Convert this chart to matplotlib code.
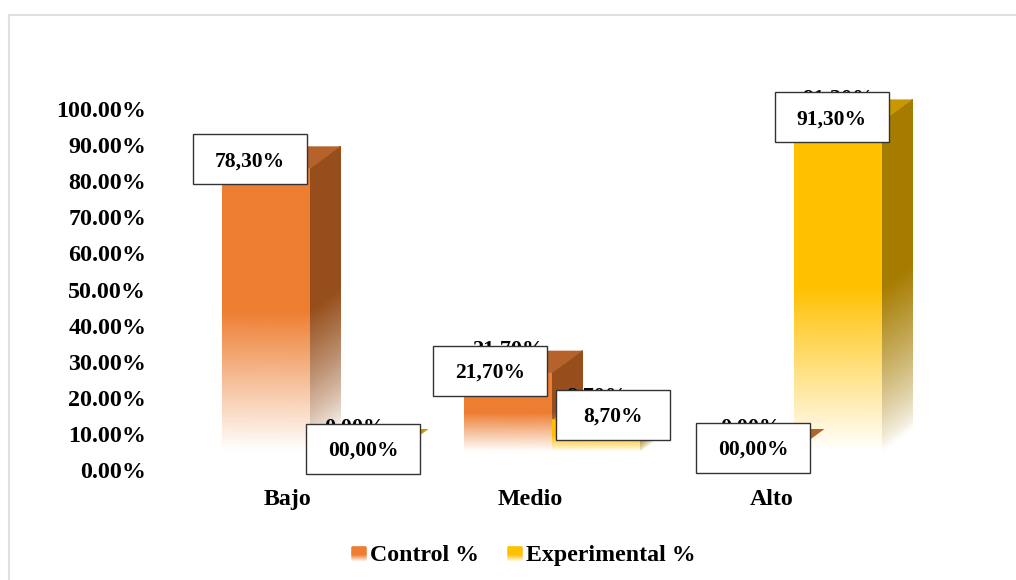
import matplotlib
matplotlib.use('Agg')
import matplotlib.pyplot as plt
import numpy as np
from matplotlib.colors import LinearSegmentedColormap
from matplotlib.lines import Line2D
from matplotlib.patches import Polygon, Rectangle
from matplotlib.transforms import IdentityTransform

categories = ['Bajo', 'Medio', 'Alto']
control = [78.3, 21.7, 0.0]
experimental = [0.0, 8.7, 91.3]
control_labels = ['78,30%', '21,70%', '00,00%']
experimental_labels = ['00,00%', '8,70%', '91,30%']
y_ticks = [0, 10, 20, 30, 40, 50, 60, 70, 80, 90, 100]
series_names = ['Control %', 'Experimental %']

W, H = 1016, 580
SERIF = 'Liberation Serif'

# colours for front, side, top of each series
ORANGE = ('#ed7d31', '#964f1c', '#b5622b')
YELLOW = ('#ffc000', '#a67c00', '#c99700')

# 3d look, all in pixels
BAR_W = 88
DEPTH_X, DEPTH_Y = 30, 22
FLOOR_X, FLOOR_Y = 22.5, 19
BOX_W, BOX_H = 114, 50

fig = plt.figure(figsize=(W / 100, H / 100), dpi=100)
ax = fig.add_axes([167 / W, (H - 470) / H, 726 / W, 361 / H])
ax.set_xlim(-0.5, 2.5)
ax.set_ylim(0, 100)
ax.autoscale(False)
for s in ax.spines.values():
    s.set_visible(False)
ax.patch.set_visible(False)
ax.tick_params(axis='y', length=0, pad=15)
ax.tick_params(axis='x', length=0, pad=14)
ax.set_xticks(range(len(categories)))
ax.set_xticklabels(categories, family=SERIF, weight='bold', fontsize=17.2)
ax.set_yticks(y_ticks)
ax.set_yticklabels([f'{t:.2f}%' for t in y_ticks], family=SERIF, weight='bold', fontsize=17.3)

ident = IdentityTransform()


def px(i, value):
    return ax.transData.transform((i, value))


def fade_face(x0, x1, y0_left, y0_right, height, color, zorder, gamma=1.0):
    # white at the floor, full colour from half way up
    cmap = LinearSegmentedColormap.from_list('fade', ['#ffffff', color])
    fracs = np.linspace(0, 1, 41)
    X = np.tile([x0, x1], (len(fracs), 1))
    Y = np.column_stack([y0_left + fracs * height, y0_right + fracs * height])
    shade = np.clip(fracs / 0.5, 0, 1) ** gamma
    C = np.column_stack([shade, shade])
    ax.pcolormesh(X, Y, C, cmap=cmap, vmin=0, vmax=1, shading='gouraud',
                  transform=ident, clip_on=False, zorder=zorder, antialiased=False)


def draw_bar(left, base, height, colors):
    front, side, top = colors
    right = left + BAR_W
    if height > 0:
        fade_face(left, right, base, base, height, front, 2)
        fade_face(right, right + DEPTH_X, base, base + DEPTH_Y, height, side, 2, gamma=0.75)
    y = base + height
    ax.add_patch(Polygon(
        [(left, y), (right, y), (right + DEPTH_X, y + DEPTH_Y), (left + DEPTH_X, y + DEPTH_Y)],
        closed=True, facecolor=top, edgecolor='none',
        transform=ident, clip_on=False, zorder=3,
    ))


def draw_label(cx, y, ghost, text, dx, dy):
    # the chart has the original label sitting behind the pasted box
    ax.text(cx, y + 23, ghost, family=SERIF, weight='bold', fontsize=16, ha='center',
            va='center', transform=ident, zorder=4, clip_on=False)
    ax.add_patch(Rectangle(
        (cx + dx - BOX_W / 2, y + dy - BOX_H / 2), BOX_W, BOX_H,
        facecolor='white', edgecolor='#333333', linewidth=1,
        transform=ident, clip_on=False, zorder=5,
    ))
    ax.text(cx + dx, y + dy - 2, text, family=SERIF, weight='bold', fontsize=15.5, ha='center',
            va='center', transform=ident, zorder=6, clip_on=False)


# label box offsets from the top of each bar, in pixels
control_offsets = [(-16.5, 9), (-18.5, 2), (2.5, 3)]
experimental_offsets = [(8.5, 2), (16.5, 5), (-7, 4)]

series = [
    (control, control_labels, control_offsets, ORANGE, -BAR_W),
    (experimental, experimental_labels, experimental_offsets, YELLOW, 0),
]
for values, labels, offsets, colors, shift in series:
    for i, v in enumerate(values):
        x0, y0 = px(i, 0)
        _, y1 = px(i, v)
        left = x0 + FLOOR_X + shift
        base = y0 + FLOOR_Y
        draw_bar(left, base, y1 - y0, colors)
        ghost = f'{v:.2f}%'.replace('.', ',')
        draw_label(left + BAR_W / 2, base + y1 - y0, ghost, labels[i], *offsets[i])

# legend, gradient swatch + text
for name, colors, sx, tx in zip(series_names, (ORANGE, YELLOW), (352, 508), (370, 526)):
    fade_face(sx, sx + 14, H - 561, H - 561, 14, colors[0], 2)
    fig.text(tx / W, (H - 555.5) / H, name, family=SERIF, weight='bold', fontsize=17.2, va='center')

# thin frame of the pasted chart
frame = dict(color='#e0e0e0', linewidth=1.5, transform=fig.transFigure)
fig.add_artist(Line2D([9 / W, 9 / W], [0, (H - 15) / H], **frame))
fig.add_artist(Line2D([9 / W, 1], [(H - 15) / H, (H - 15) / H], **frame))

fig.savefig('out.png', dpi=100)
